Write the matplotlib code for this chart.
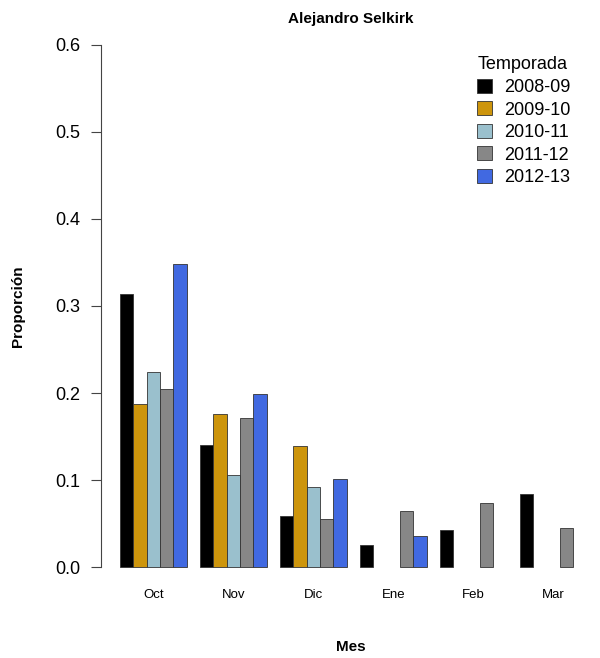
import numpy as np
import matplotlib.pyplot as plt
from matplotlib.patches import Patch

plt.rcParams['font.family'] = ['Liberation Sans', 'DejaVu Sans']

# Data
meses = ['Oct', 'Nov', 'Dic', 'Ene', 'Feb', 'Mar']
temporadas = ['2008-09', '2009-10', '2010-11', '2011-12', '2012-13']
colores = ['#000000', '#CD950C', '#9AC0CD', '#878787', '#4169E1']

t2008 = [0.314, 0.140, 0.059, 0.025, 0.043, 0.084]
t2009 = [0.187, 0.176, 0.139, 0.0, 0.0, 0.0]
t2010 = [0.224, 0.106, 0.092, 0.0, 0.0, 0.0]
t2011 = [0.205, 0.171, 0.055, 0.064, 0.074, 0.045]
t2012 = [0.348, 0.199, 0.101, 0.036, 0.0, 0.0]
series = [t2008, t2009, t2010, t2011, t2012]


def main():
    W, H = 600, 658
    fig = plt.figure(figsize=(W / 100, H / 100), dpi=100)

    # axes box in pixels (R barplot region)
    left_px, right_px, top_px, bot_px = 101.3, 600, 24, 588
    ax = fig.add_axes([left_px / W, 1 - bot_px / H,
                       (right_px - left_px) / W, (bot_px - top_px) / H])

    n = len(temporadas)
    # R style beside barplot: each group has one unit of space before it
    for j, (vals, col) in enumerate(zip(series, colores)):
        x = [1 + g * (n + 1) + j + 0.5 for g in range(len(meses))]
        lw = [0.6 if v > 0 else 0 for v in vals]
        ax.bar(x, vals, width=1.0, color=col, edgecolor='#333333',
               linewidth=lw, zorder=2)

    centers = [1 + g * (n + 1) + n / 2 for g in range(len(meses))]
    ax.set_xlim(-0.4, -0.4 + (right_px - left_px) / 13.33)
    ax.set_ylim(-0.024, 0.624)

    for s in ['top', 'right', 'bottom']:
        ax.spines[s].set_visible(False)
    ax.spines['left'].set_bounds(0, 0.6)
    ax.spines['left'].set_color('#444444')

    ax.set_yticks(np.arange(0, 0.61, 0.1))
    ax.set_yticklabels(['%.1f' % v for v in np.arange(0, 0.61, 0.1)], fontsize=13)
    ax.tick_params(axis='y', length=7, width=0.8, color='#444444', pad=8)

    ax.set_xticks(centers)
    ax.set_xticklabels(meses, fontsize=9.5)
    ax.tick_params(axis='x', length=0, pad=1)

    fig.text(0.5 * (left_px + right_px) / W, 1 - 647 / H, 'Mes',
             ha='center', va='center', fontsize=11, fontweight='bold')
    fig.text(18 / W, 1 - 306 / H, 'Proporción', rotation=90,
             ha='center', va='center', fontsize=11, fontweight='bold')
    fig.text(0.5 * (left_px + right_px) / W, 1 - 19 / H, 'Alejandro Selkirk',
             ha='center', va='center', fontsize=11, fontweight='bold')

    handles = [Patch(facecolor=c, edgecolor='#333333', linewidth=0.6)
               for c in colores]
    leg = ax.legend(handles, temporadas, title='Temporada', loc='upper left',
                    bbox_to_anchor=(472 / W, 1 - 51 / H),
                    bbox_transform=fig.transFigure, frameon=False,
                    fontsize=13, title_fontsize=13, handlelength=0.78,
                    handleheight=0.78, handletextpad=0.7, labelspacing=0.3,
                    borderaxespad=0, borderpad=0.3)
    leg._legend_box.align = 'left'
    leg._legend_box.sep = 4

    fig.savefig('out.png', dpi=100)


if __name__ == "__main__":
    main()
